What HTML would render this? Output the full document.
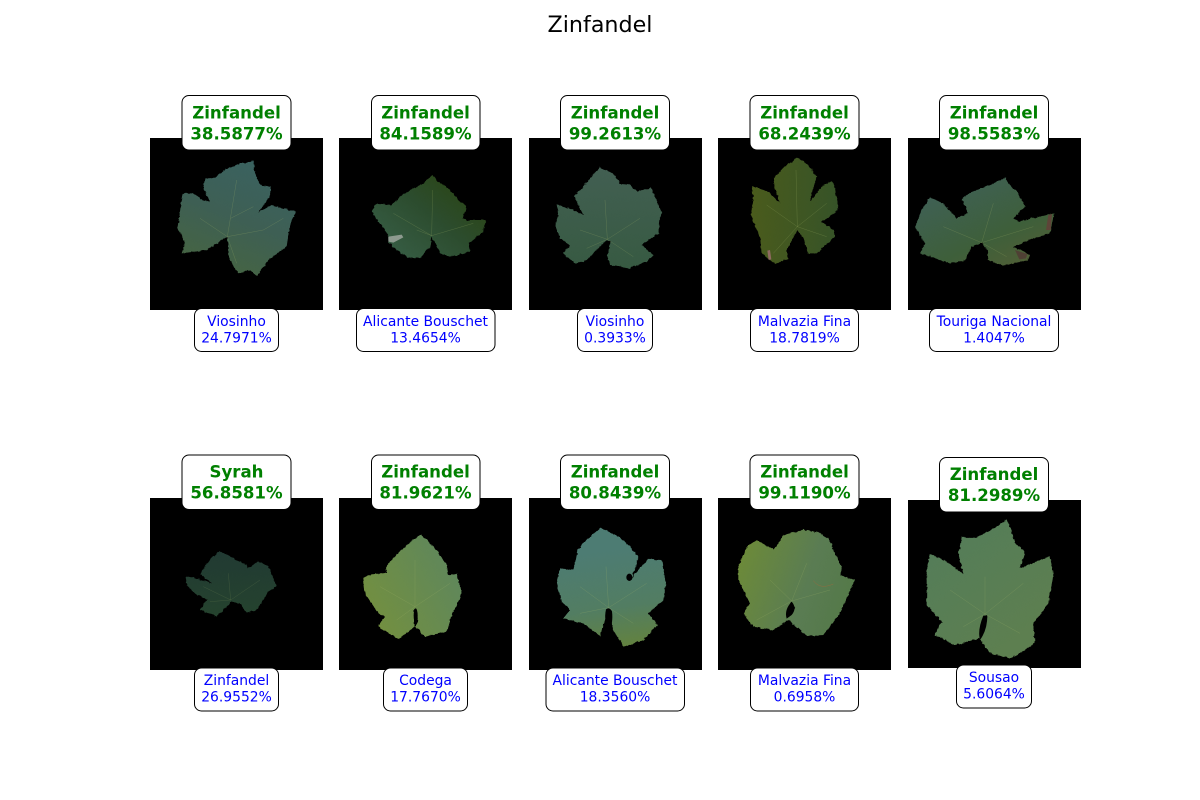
<!DOCTYPE html>
<html lang="en">
<head>
<meta charset="utf-8">
<title>Zinfandel</title>
<style>
html,body{margin:0;padding:0;background:#fff;width:1200px;height:800px;overflow:hidden}
svg{display:block}
text{font-family:"DejaVu Sans","Liberation Sans",sans-serif;text-anchor:middle}
.t{font-size:16.6px;font-weight:700;fill:#008000}
.b{font-size:13.89px;fill:#0000ff}
.bx{fill:#fff;stroke:#000;stroke-width:1}
.im{fill:#000}
.v{fill:none;stroke:#a8b86a;stroke-width:1.5;stroke-opacity:.3}
.h{fill:#000}
</style>
</head>
<body>
<svg xmlns="http://www.w3.org/2000/svg" width="1200" height="800" viewBox="0 0 1200 800">
<defs>
<filter id="rough" x="-10%" y="-10%" width="120%" height="120%" color-interpolation-filters="sRGB">
<feTurbulence type="fractalNoise" baseFrequency="0.09" numOctaves="2" seed="4" result="n"/>
<feDisplacementMap in="SourceGraphic" in2="n" scale="9" xChannelSelector="R" yChannelSelector="G"/>
<feGaussianBlur stdDeviation="0.9"/>
</filter>
<linearGradient id="g1" x1="0.7" y1="0" x2="0.3" y2="1"><stop offset="0" stop-color="#3a6260"/><stop offset=".5" stop-color="#3e5f54"/><stop offset="1" stop-color="#466541"/></linearGradient>
<linearGradient id="g2" x1="0.9" y1="0.1" x2="0.1" y2="0.8"><stop offset="0" stop-color="#2a4512"/><stop offset=".5" stop-color="#2c4c2e"/><stop offset="1" stop-color="#365c43"/></linearGradient>
<linearGradient id="g3" x1="0.5" y1="0" x2="0.5" y2="1"><stop offset="0" stop-color="#425f52"/><stop offset="1" stop-color="#375a42"/></linearGradient>
<linearGradient id="g4" x1="0" y1="0.5" x2="1" y2="0.5"><stop offset="0" stop-color="#4a5b1c"/><stop offset="1" stop-color="#365328"/></linearGradient>
<linearGradient id="g5" x1="0.2" y1="0.2" x2="0.8" y2="1"><stop offset="0" stop-color="#3f6052"/><stop offset=".6" stop-color="#3e5f3a"/><stop offset="1" stop-color="#505f36"/></linearGradient>
<linearGradient id="g6" x1="0.5" y1="0" x2="0.5" y2="1"><stop offset="0" stop-color="#213a33"/><stop offset="1" stop-color="#25432e"/></linearGradient>
<linearGradient id="g7" x1="0" y1="0.8" x2="1" y2="0.2"><stop offset="0" stop-color="#74903e"/><stop offset="1" stop-color="#5d865e"/></linearGradient>
<linearGradient id="g8" x1="0.4" y1="0.2" x2="0.5" y2="1"><stop offset="0" stop-color="#4d7c73"/><stop offset=".6" stop-color="#527d62"/><stop offset="1" stop-color="#628241"/></linearGradient>
<linearGradient id="g9" x1="0" y1="0.3" x2="1" y2="0.6"><stop offset="0" stop-color="#6c8a39"/><stop offset=".6" stop-color="#5a7c53"/><stop offset="1" stop-color="#547948"/></linearGradient>
<linearGradient id="g10" x1="0.3" y1="0.1" x2="0.8" y2="0.8"><stop offset="0" stop-color="#557d58"/><stop offset="1" stop-color="#5d7f50"/></linearGradient>
</defs>

<text x="600" y="32" style="font-size:22.22px;fill:#000">Zinfandel</text>

<rect class="im" x="150" y="138" width="173" height="172"/>
<rect class="im" x="339" y="138" width="173" height="172"/>
<rect class="im" x="529" y="138" width="173" height="172"/>
<rect class="im" x="718" y="138" width="173" height="172"/>
<rect class="im" x="908" y="138" width="173" height="172"/>
<rect class="im" x="150" y="498" width="173" height="172"/>
<rect class="im" x="339" y="498" width="173" height="172"/>
<rect class="im" x="529" y="498" width="173" height="172"/>
<rect class="im" x="718" y="498" width="173" height="172"/>
<rect class="im" x="908" y="500" width="173" height="168"/>

<g transform="translate(140,90) scale(.33333)">
<g>
<polygon filter="url(#rough)" fill="url(#g1)" points="340,212 300,220 262,235 225,262 195,265 190,295 210,335 190,330 160,310 127,310 118,380 113,410 135,460 125,490 200,480 262,440 265,490 270,510 295,550 330,540 350,558 385,510 440,470 450,400 468,365 430,355 395,345 355,368 390,320 392,290 360,285 345,250"/>
<path class="v" d="M262,440L272,380L290,270M262,440L180,385M262,440L370,420L430,385M262,440L290,520M272,385L340,350"/>
</g>
<g>
<polygon filter="url(#rough)" fill="url(#g2)" points="877,255 850,280 810,300 780,320 755,345 710,340 695,365 715,395 745,435 745,455 770,480 800,500 840,505 870,470 875,442 893,470 900,490 930,500 990,485 985,460 1030,425 1038,390 985,390 968,385 980,350 955,330 925,295 895,275"/>
<polygon fill="#8d9a8f" points="745,440 785,434 790,442 760,458 745,455"/>
<path class="v" d="M875,437L878,300M875,437L760,370M875,437L1000,400M875,437L830,420"/>
</g>
</g>

<g transform="translate(520,90) scale(.33333)">
<g>
<polygon filter="url(#rough)" fill="url(#g3)" points="238,233 210,265 190,290 162,318 190,375 160,360 110,343 115,375 105,405 120,445 150,465 130,490 165,520 200,510 245,465 260,450 272,455 262,500 270,525 325,535 380,515 400,495 365,465 415,430 420,385 425,370 410,330 392,293 350,305 330,283 300,280 280,250"/>
<path class="v" d="M262,448L255,330M262,448L180,420M262,448L360,385M262,448L340,500M262,448L200,475"/>
</g>
<g>
<polygon filter="url(#rough)" fill="url(#g4)" points="832,203 795,230 760,265 765,295 780,340 745,305 695,288 700,330 692,375 720,440 725,490 765,522 805,505 800,480 832,420 850,445 865,490 890,490 945,440 940,420 905,395 955,360 945,295 935,272 905,290 870,335 880,290 890,260 865,225"/>
<polygon fill="#8f6a60" points="742,482 750,480 754,508 746,510"/>
<path class="v" d="M832,410L828,240M832,410L740,345M832,410L920,340M832,410L920,440M832,410L760,490"/>
</g>
</g>

<g transform="translate(900,90) scale(.33333)">
<g>
<polygon filter="url(#rough)" fill="url(#g5)" points="316,263 270,285 210,308 185,325 205,370 170,385 130,340 90,322 65,360 45,410 75,460 60,490 150,520 195,510 215,470 245,458 262,480 265,510 310,527 385,510 390,495 340,470 400,445 450,430 462,370 420,380 355,395 340,385 375,350 355,310 330,285"/>
<polygon fill="#4f4034" points="345,480 382,492 378,505 358,508"/>
<polygon fill="#5e4438" points="445,375 456,372 452,420 438,420"/>
<path class="v" d="M245,458L280,340M245,458L130,410M245,458L400,410M245,458L320,500"/>
</g>
</g>

<g transform="translate(140,450) scale(.33333)">
<g>
<polygon filter="url(#rough)" fill="url(#g6)" points="238,303 205,335 180,372 215,400 170,385 137,378 140,405 165,430 200,450 180,480 230,500 275,455 300,460 320,488 350,480 385,425 410,408 385,350 355,333 325,355 320,345 280,325"/>
<path class="v" style="stroke-opacity:.2" d="M272,450L265,370M272,450L190,410M272,450L360,390M272,450L210,455"/>
</g>
<g>
<polygon filter="url(#rough)" fill="url(#g7)" points="843,253 800,285 760,325 738,350 740,370 690,375 670,385 675,430 715,490 735,500 715,530 775,568 822,530 822,475 835,510 825,530 855,560 920,545 930,510 965,430 950,370 925,375 920,345 880,290"/>
<ellipse class="h" cx="827" cy="497" rx="6" ry="22"/>
<path class="v" d="M825,470L825,330M825,470L720,410M825,470L930,400M825,470L770,510"/>
</g>
</g>

<g transform="translate(520,450) scale(.33333)">
<g>
<polygon filter="url(#rough)" fill="url(#g8)" points="242,233 205,265 175,295 160,360 120,355 110,395 125,455 150,480 130,505 190,520 240,558 255,510 265,478 280,540 310,590 370,570 412,525 385,490 430,450 438,400 425,330 385,328 345,370 335,390 355,320 330,290 295,260"/>
<ellipse class="h" cx="328" cy="382" rx="9" ry="11"/>
<path class="h" d="M258,478Q268,470 276,484Q280,520 268,540Q250,515 258,478Z"/>
<path class="v" d="M266,473L258,350M266,473L180,410M266,473L380,400M266,473L340,520M266,473L180,490"/>
</g>
<g>
<polygon filter="url(#rough)" fill="url(#g9)" points="850,240 790,255 762,300 710,270 680,290 655,350 655,390 690,460 670,490 700,530 760,540 805,510 812,455 825,475 800,505 860,558 910,555 960,490 1005,390 960,375 965,350 945,310 925,265 890,245"/>
<path class="h" d="M815,455Q832,475 815,495L800,506Q792,480 815,455Z"/>
<path class="v" d="M815,453L860,340M815,453L750,390M815,453L930,420M815,453L710,510"/>
<path class="v" style="stroke:#a0683c;stroke-opacity:.8" d="M880,392Q900,420 940,402"/>
</g>
</g>

<g transform="translate(900,450) scale(.33333)">
<g>
<polygon filter="url(#rough)" fill="url(#g10)" points="320,208 275,240 230,262 185,262 175,310 190,372 140,335 90,313 80,370 80,465 125,515 105,555 165,585 238,565 255,497 262,497 240,570 270,610 335,625 405,580 400,520 445,460 460,375 450,318 360,355 375,305 345,280 330,230"/>
<path class="h" d="M250,497L262,497Q262,540 240,570Q232,540 250,497Z"/>
<path class="v" d="M255,492L255,380M255,492L150,420M255,492L370,400M255,492L360,550M255,492L190,530"/>
</g>
</g>

<g><rect class="bx" x="182" y="95.5" width="109" height="54.5" rx="7"/><text class="t" x="236.5" y="118.3">Zinfandel</text><text class="t" x="236.5" y="139.3">38.5877%</text></g>
<g><rect class="bx" x="371.5" y="95.5" width="108.5" height="54.5" rx="7"/><text class="t" x="425.5" y="118.3">Zinfandel</text><text class="t" x="425.5" y="139.3">84.1589%</text></g>
<g><rect class="bx" x="560.5" y="95.5" width="109" height="54.5" rx="7"/><text class="t" x="615" y="118.3">Zinfandel</text><text class="t" x="615" y="139.3">99.2613%</text></g>
<g><rect class="bx" x="750" y="95.5" width="109" height="54.5" rx="7"/><text class="t" x="804.5" y="118.3">Zinfandel</text><text class="t" x="804.5" y="139.3">68.2439%</text></g>
<g><rect class="bx" x="939.5" y="95.5" width="109" height="54.5" rx="7"/><text class="t" x="994" y="118.3">Zinfandel</text><text class="t" x="994" y="139.3">98.5583%</text></g>
<g><rect class="bx" x="182" y="455" width="109" height="54.5" rx="7"/><text class="t" x="236.5" y="477.5">Syrah</text><text class="t" x="236.5" y="498.5">56.8581%</text></g>
<g><rect class="bx" x="371.5" y="455" width="108.5" height="54.5" rx="7"/><text class="t" x="425.5" y="477.5">Zinfandel</text><text class="t" x="425.5" y="498.5">81.9621%</text></g>
<g><rect class="bx" x="560.5" y="455" width="109" height="54.5" rx="7"/><text class="t" x="615" y="477.5">Zinfandel</text><text class="t" x="615" y="498.5">80.8439%</text></g>
<g><rect class="bx" x="750" y="455" width="109" height="54.5" rx="7"/><text class="t" x="804.5" y="477.5">Zinfandel</text><text class="t" x="804.5" y="498.5">99.1190%</text></g>
<g><rect class="bx" x="939.5" y="457.5" width="109" height="54.5" rx="7"/><text class="t" x="994" y="480">Zinfandel</text><text class="t" x="994" y="501">81.2989%</text></g>

<g><rect class="bx" x="194.5" y="308.5" width="84" height="43" rx="7"/><text class="b" x="236.5" y="326">Viosinho</text><text class="b" x="236.5" y="342.3">24.7971%</text></g>
<g><rect class="bx" x="356.5" y="308.5" width="138.5" height="43" rx="7"/><text class="b" x="425.5" y="326">Alicante Bouschet</text><text class="b" x="425.5" y="342.3">13.4654%</text></g>
<g><rect class="bx" x="577.5" y="308.5" width="75" height="43" rx="7"/><text class="b" x="615" y="326">Viosinho</text><text class="b" x="615" y="342.3">0.3933%</text></g>
<g><rect class="bx" x="750.5" y="308.5" width="108" height="43" rx="7"/><text class="b" x="804.5" y="326">Malvazia Fina</text><text class="b" x="804.5" y="342.3">18.7819%</text></g>
<g><rect class="bx" x="929.5" y="308.5" width="129" height="43" rx="7"/><text class="b" x="994" y="326">Touriga Nacional</text><text class="b" x="994" y="342.3">1.4047%</text></g>
<g><rect class="bx" x="194.5" y="668" width="84" height="43" rx="7"/><text class="b" x="236.5" y="685">Zinfandel</text><text class="b" x="236.5" y="701.3">26.9552%</text></g>
<g><rect class="bx" x="383.5" y="668" width="84" height="43" rx="7"/><text class="b" x="425.5" y="685">Codega</text><text class="b" x="425.5" y="701.3">17.7670%</text></g>
<g><rect class="bx" x="546" y="668" width="138.5" height="43" rx="7"/><text class="b" x="615" y="685">Alicante Bouschet</text><text class="b" x="615" y="701.3">18.3560%</text></g>
<g><rect class="bx" x="750.5" y="668" width="108" height="43" rx="7"/><text class="b" x="804.5" y="685">Malvazia Fina</text><text class="b" x="804.5" y="701.3">0.6958%</text></g>
<g><rect class="bx" x="956.5" y="665" width="75" height="43" rx="7"/><text class="b" x="994" y="682">Sousao</text><text class="b" x="994" y="698.3">5.6064%</text></g>
</svg>
</body>
</html>
